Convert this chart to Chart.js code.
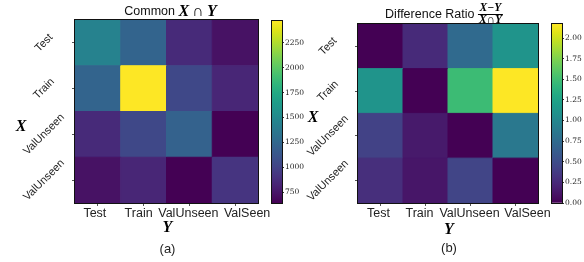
<!DOCTYPE html>
<html><head><meta charset="utf-8">
<script src="https://cdn.jsdelivr.net/npm/chart.js@4/dist/chart.umd.min.js"></script>
<style>
html,body{margin:0;padding:0;background:#fff;}
#wrap{position:relative;width:584px;height:262px;overflow:hidden;background:#fff;}
canvas{position:absolute;top:0;}
</style></head><body>
<div id="wrap">
<canvas id="hA" width="290" height="262" style="left:0px"></canvas>
<canvas id="cA" width="42" height="262" style="left:262px"></canvas>
<canvas id="hB" width="294" height="262" style="left:290px"></canvas>
<canvas id="cB" width="42" height="262" style="left:542px"></canvas>
</div>
<script>
// ---------- data ----------
const colLabels = ['Test', 'Train', 'ValUnseen', 'ValSeen'];        // Y (columns)
const rowKeys = ['Test', 'Train', 'ValUnseen', 'ValSeen'];          // X (rows), internal keys
const rowTickLabels = ['Test', 'Train', 'ValUnseen', 'ValUnseen'];  // X tick text as printed
const commonVals = [
  [1450, 1225, 860, 725],
  [1225, 2470, 1030, 835],
  [860, 1030, 1210, 640],
  [725, 835, 640, 915]
];
const ratioVals = [
  [0.00, 0.26, 0.74, 1.11],
  [1.11, 0.00, 1.48, 2.17],
  [0.42, 0.15, 0.00, 0.87],
  [0.29, 0.13, 0.44, 0.00]
];
const commonRange = [640, 2470];
const commonTicks = [750, 1000, 1250, 1500, 1750, 2000, 2250];
const ratioRange = [0, 2.17];
const ratioTicks = [0, 0.25, 0.5, 0.75, 1.0, 1.25, 1.5, 1.75, 2.0];
const titleA = ['Common ', 'X\u2009\u2229\u2009Y'];
const titleB = ['Difference Ratio ', 'X\u2212Y', 'X\u2229Y'];
const axisNames = ['X', 'Y'];
const panelNames = ['(a)', '(b)'];

// ---------- colormap ----------
const VIR = ['#440154','#471365','#482475','#463480','#414487','#3b528b','#355f8d','#2f6c8e','#2a788e','#25848e','#21918c','#1e9c89','#22a884','#2fb47c','#44bf70','#5ec962','#7ad151','#9bd93c','#bddf26','#dfe318','#fde725'];
const hex = h => [1,3,5].map(i => parseInt(h.substr(i,2),16));
function viridis(t){
  t = Math.max(0, Math.min(1, t));
  const n = VIR.length - 1, f = t*n, i = Math.min(n-1, Math.floor(f)), u = f - i;
  const a = hex(VIR[i]), b = hex(VIR[i+1]);
  return 'rgb(' + a.map((v,k)=>Math.round(v + (b[k]-v)*u)).join(',') + ')';
}

const SANS = '"Liberation Sans", Arial, sans-serif';
const SERIF = '"Liberation Serif", "DejaVu Serif", serif';

function drawHeatExtras(chart, cfg){
  const {ctx, chartArea:a} = chart;
  const ys = chart.scales.y, xs = chart.scales.x;
  const cx = (a.left + a.right)/2;
  ctx.save();
  ctx.strokeStyle = '#111'; ctx.lineWidth = 1;
  ctx.strokeRect(a.left-0.5, a.top-0.5, a.width+1, a.height+1);
  ctx.fillStyle = '#222'; ctx.textAlign = 'center'; ctx.textBaseline = 'middle';
  // column tick labels (Y)
  ctx.font = '12.5px ' + SANS;
  colLabels.forEach((lab, i) => {
    ctx.fillText(lab, xs.getPixelForValue(i) + cfg.colDx[i], a.bottom + 11);
  });
  // row tick labels (X), rotated
  ctx.font = '11px ' + SANS;
  rowTickLabels.forEach((lab, i) => {
    const py = ys.getPixelForValue(i);
    ctx.save(); ctx.translate(a.left - cfg.rowDx, py); ctx.rotate(-Math.PI/4);
    ctx.fillText(lab, 0, 0); ctx.restore();
  });
  ctx.fillStyle = '#000';
  ctx.font = 'bold italic 16px ' + SERIF;
  ctx.fillText(axisNames[0], cfg.xLab[0], cfg.xLab[1]);
  ctx.fillText(axisNames[1], cx + 1, cfg.yLabY);
  ctx.fillStyle = '#222';
  ctx.font = '13px ' + SANS;
  ctx.fillText(cfg.panel, cx + 1, cfg.panelY);
  ctx.restore();
}

function heatChart(id, matrix, range, cfg){
  const data = [];
  matrix.forEach((row, r) => row.forEach((v, c) => data.push({x: colLabels[c], y: rowKeys[r], v})));
  const col = ctx => viridis(((ctx.raw ? ctx.raw.v : range[0]) - range[0])/(range[1]-range[0]));
  const rad = ctx => {
    const a = ctx.chart.chartArea; if (!a) return 1;
    return Math.max(a.width/colLabels.length, a.height/rowKeys.length)/2*Math.SQRT2;
  };
  return new Chart(document.getElementById(id), {
    type: 'scatter',
    data: {datasets: [{data, pointStyle:'rect', backgroundColor:col, borderColor:col, borderWidth:1,
      pointRadius:rad, pointHoverRadius:rad, clip:0}]},
    options: {
      responsive:false, animation:false, events:[],
      layout:{padding:{left:0, top:cfg.top, right:cfg.right, bottom:0}},
      plugins:{legend:{display:false}, tooltip:{enabled:false}},
      scales:{
        x:{type:'category', labels:colLabels, offset:true,
          grid:{drawOnChartArea:false, tickLength:3, color:'#555'}, border:{display:false},
          ticks:{display:false},
          afterFit: s => { s.height = 59; }},
        y:{type:'category', labels:rowKeys, offset:true,
          grid:{drawOnChartArea:false, tickLength:3, color:'#555'}, border:{display:false},
          ticks:{display:false},
          afterFit: s => { s.width = cfg.yw; }}
      }
    },
    plugins:[{id:'extras'+id,
      beforeDatasetsDraw(chart){ cfg.title(chart); },
      afterDatasetsDraw(chart){ drawHeatExtras(chart, cfg); }}]
  });
}

function cbarChart(id, range, ticks, top, fmt){
  const grad = ctx => {
    const c = ctx.chart, a = c.chartArea;
    if (!a) return VIR[0];
    const g = c.ctx.createLinearGradient(0, a.bottom, 0, a.top);
    VIR.forEach((h, i) => g.addColorStop(i/(VIR.length-1), h));
    return g;
  };
  return new Chart(document.getElementById(id), {
    type:'bar',
    data:{labels:[''], datasets:[{data:[range], backgroundColor:grad, borderWidth:0, barPercentage:1, categoryPercentage:1}]},
    options:{
      responsive:false, animation:false, events:[],
      layout:{padding:{left:10, top:top, right:0, bottom:59}},
      plugins:{legend:{display:false}, tooltip:{enabled:false}},
      scales:{
        x:{display:false},
        y:{position:'right', min:range[0], max:range[1],
          afterBuildTicks: s => { s.ticks = ticks.map(v => ({value:v})); },
          grid:{drawOnChartArea:false, tickLength:2, color:'#333'}, border:{display:false},
          ticks:{font:{family:'"DejaVu Serif", serif', size:7.5}, color:'#222', padding:1, callback: v => fmt(v)},
          afterFit: s => { s.width = 22; }}
      }
    },
    plugins:[{id:'cbBorder'+id, afterDatasetsDraw(chart){
      const {ctx, chartArea:a} = chart;
      ctx.save(); ctx.strokeStyle='#111'; ctx.lineWidth=1;
      ctx.strokeRect(a.left-0.5, a.top-0.5, a.width+1, a.height+1); ctx.restore();
    }}]
  });
}

function titleAFn(chart){
  const {ctx, chartArea:a} = chart;
  ctx.save(); ctx.textBaseline='middle'; ctx.textAlign='left'; ctx.fillStyle='#111';
  const f1 = '12.5px ' + SANS, f2 = 'bold italic 16px ' + SERIF;
  ctx.font = f1; const w1 = ctx.measureText(titleA[0]).width;
  ctx.font = f2; const w2 = ctx.measureText(titleA[1]).width;
  let x = (a.left+a.right)/2 + 4 - (w1+w2)/2;
  ctx.font = f1; ctx.fillText(titleA[0], x, 12);
  ctx.font = f2; ctx.fillStyle='#000'; ctx.fillText(titleA[1], x + w1, 12);
  ctx.restore();
}
function titleBFn(chart){
  const {ctx, chartArea:a} = chart;
  ctx.save(); ctx.textBaseline='middle'; ctx.textAlign='left'; ctx.fillStyle='#111';
  const f1 = '12.5px ' + SANS, f2 = 'bold italic 11.5px ' + SERIF;
  ctx.font = f1; const w1 = ctx.measureText(titleB[0]).width;
  ctx.font = f2; const wn = ctx.measureText(titleB[1]).width, wd = ctx.measureText(titleB[2]).width;
  const wf = Math.max(wn, wd) + 2;
  let x = (a.left+a.right)/2 - 4 - (w1+wf)/2;
  ctx.font = f1; ctx.fillText(titleB[0], x, 15);
  const fx = x + w1 + wf/2;
  ctx.font = f2; ctx.textAlign='center'; ctx.fillStyle='#000';
  ctx.fillText(titleB[1], fx, 8);
  ctx.fillText(titleB[2], fx, 20);
  ctx.strokeStyle='#000'; ctx.lineWidth=1;
  ctx.beginPath(); ctx.moveTo(fx - wf/2, 14.5); ctx.lineTo(fx + wf/2, 14.5); ctx.stroke();
  ctx.restore();
}

heatChart('hA', commonVals, commonRange, {top:20, right:32, yw:75, rowDx:31, colDx:[-3,-5,-1,12], xLab:[21,127], yLabY:228, panelY:249, panel:panelNames[0], title:titleAFn});
cbarChart('cA', commonRange, commonTicks, 21, v => String(v));
heatChart('hB', ratioVals, ratioRange, {top:24, right:46, yw:68, rowDx:30, colDx:[-2,-6,-1,12], xLab:[23,118], yLabY:230, panelY:248, panel:panelNames[1], title:titleBFn});
cbarChart('cB', ratioRange, ratioTicks, 24, v => v.toFixed(2));
</script>
</body></html>
